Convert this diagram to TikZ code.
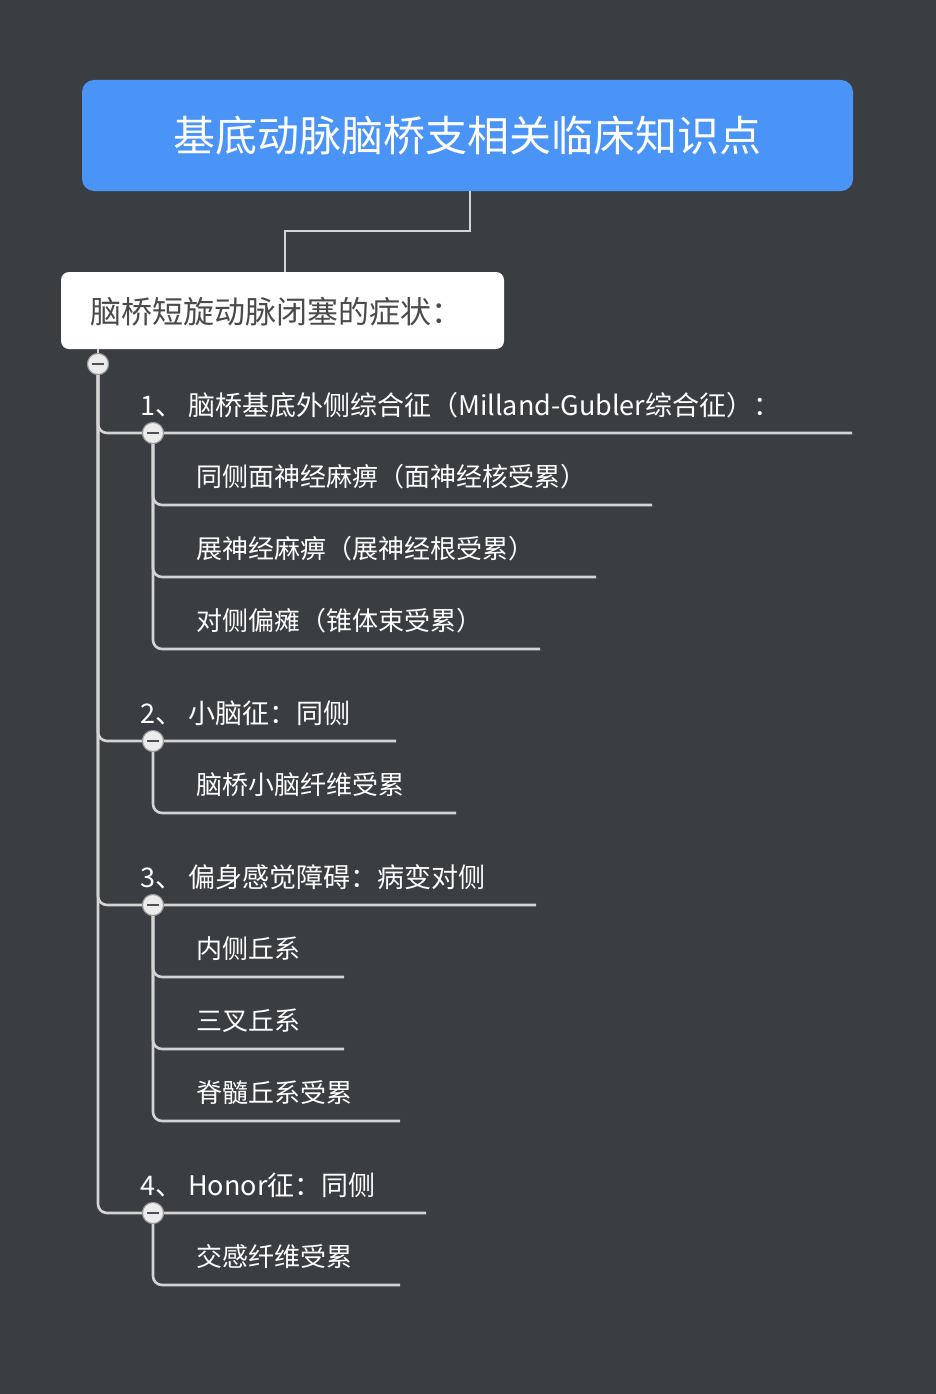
\documentclass[tikz,border=0pt]{standalone}
\usepackage{fontspec}
\setmainfont{Noto Sans CJK SC}
\usetikzlibrary{positioning}
\definecolor{bgdark}{HTML}{3A3D42}
\definecolor{titleblue}{HTML}{4A94F8}
\definecolor{linegray}{HTML}{D4D4D4}
\definecolor{subtext}{HTML}{4A4A4A}
\tikzset{
 branch/.style={draw=linegray, line width=2.6pt, rounded corners=9pt},
 toggle/.style={circle, draw=gray!80, fill=gray!15, line width=1pt, inner sep=0pt, minimum size=21pt,
   path picture={\fill[bgdark!90] ([xshift=-6pt,yshift=-1.3pt]path picture bounding box.center) rectangle ([xshift=6pt,yshift=1.3pt]path picture bounding box.center);}},
 topic/.style={anchor=west, text=white, inner sep=0pt, font=\fontsize{27}{30}\selectfont},
 item/.style={anchor=west, text=white, inner sep=0pt, font=\fontsize{26}{30}\selectfont}
}
\begin{document}
\begin{tikzpicture}[x=1pt,y=-1pt]
 \fill[bgdark] (0,0) rectangle (936,1394);
 \useasboundingbox (0,0) rectangle (936,1394);

 % root and subject
 \node[fill=titleblue, rounded corners=12pt, minimum width=771pt, minimum height=111pt, text=white,
   font=\fontsize{42}{46}\selectfont] (root) at (467.5,135.5) {基底动脉脑桥支相关临床知识点};
 \node[fill=white, rounded corners=8pt, minimum width=443pt, minimum height=77pt] (subj) at (282.5,310.5) {};
 \node[anchor=west, text=subtext, inner sep=0pt, font=\fontsize{31}{34}\selectfont] (subjtxt) at (90,312) {脑桥短旋动脉闭塞的症状：};
 \draw[draw=linegray, line width=2.6pt] (root.south -| 470,0) |- (285,231) -- (subj.north -| 285,0);

 % level one
 \coordinate (u1) at (852,433);
 \coordinate (u2) at (396,741);
 \coordinate (u3) at (536,905);
 \coordinate (u4) at (426,1213);
 \node[toggle] (t0) at (98,364) {};
 \foreach \u in {u1,u2,u3,u4}
   \draw[branch] (t0.south) |- (\u);
 \draw[draw=linegray, line width=2.6pt] (subj.south -| t0) -- (t0.north);

 % level two
 \coordinate (c11) at (652,505);
 \coordinate (c12) at (596,577);
 \coordinate (c13) at (540,649);
 \coordinate (c21) at (456,813);
 \coordinate (c31) at (344,977);
 \coordinate (c32) at (344,1049);
 \coordinate (c33) at (400,1121);
 \coordinate (c41) at (400,1285);
 \node[toggle] (t1) at (153,433) {};
 \node[toggle] (t2) at (153,741) {};
 \node[toggle] (t3) at (153,905) {};
 \node[toggle] (t4) at (153,1213) {};
 \foreach \u in {c11,c12,c13} \draw[branch] (t1.south) |- (\u);
 \draw[branch] (t2.south) |- (c21);
 \foreach \u in {c31,c32,c33} \draw[branch] (t3.south) |- (\u);
 \draw[branch] (t4.south) |- (c41);
 \foreach \t in {t0,t1,t2,t3,t4}
   \node[toggle] at (\t) {};

 % labels
 \node[topic] (l1) at (140,405) {1、\hspace{6pt}脑桥基底外侧综合征（Milland-Gubler综合征）：};
 \node[topic] (l2) at (140,713) {2、\hspace{6pt}小脑征：同侧};
 \node[topic] (l3) at (140,877) {3、\hspace{6pt}偏身感觉障碍：病变对侧};
 \node[topic] (l4) at (140,1185) {4、\hspace{6pt}Honor征：同侧};
 \node[item] (i11) at (196,477) {同侧面神经麻痹（面神经核受累）};
 \node[item] (i12) at (196,549) {展神经麻痹（展神经根受累）};
 \node[item] (i13) at (196,621) {对侧偏瘫（锥体束受累）};
 \node[item] (i21) at (196,785) {脑桥小脑纤维受累};
 \node[item] (i31) at (196,949) {内侧丘系};
 \node[item] (i32) at (196,1021) {三叉丘系};
 \node[item] (i33) at (196,1093) {脊髓丘系受累};
 \node[item] (i41) at (196,1257) {交感纤维受累};
\end{tikzpicture}
\end{document}
